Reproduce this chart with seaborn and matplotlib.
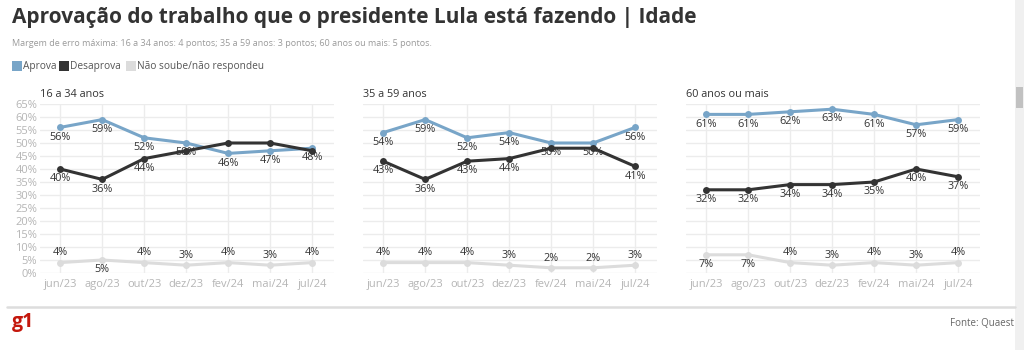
import matplotlib
matplotlib.use("Agg")
import matplotlib.pyplot as plt
import matplotlib.patches as mpatches
import numpy as np
import pandas as pd
import seaborn as sns

# ---- dados (Quaest) ----
meses = ["jun/23", "ago/23", "out/23", "dez/23", "fev/24", "mai/24", "jul/24"]
paineis = ["16 a 34 anos", "35 a 59 anos", "60 anos ou mais"]

aprova_16_34 = [56, 59, 52, 50, 46, 47, 48]
desaprova_16_34 = [40, 36, 44, 47, 50, 50, 47]
ns_16_34 = [4, 5, 4, 3, 4, 3, 4]

aprova_35_59 = [54, 59, 52, 54, 50, 50, 56]
desaprova_35_59 = [43, 36, 43, 44, 48, 48, 41]
ns_35_59 = [4, 4, 4, 3, 2, 2, 3]

aprova_60 = [61, 61, 62, 63, 61, 57, 59]
desaprova_60 = [32, 32, 34, 34, 35, 40, 37]
ns_60 = [7, 7, 4, 3, 4, 3, 4]

series = ["Não soube/não respondeu", "Aprova", "Desaprova"]
cores = {"Aprova": "#78a5c8", "Desaprova": "#333333",
         "Não soube/não respondeu": "#dcdcdc"}

dados = {
    "16 a 34 anos": (aprova_16_34, desaprova_16_34, ns_16_34),
    "35 a 59 anos": (aprova_35_59, desaprova_35_59, ns_35_59),
    "60 anos ou mais": (aprova_60, desaprova_60, ns_60),
}

rows = []
for painel, (ap, de, ns) in dados.items():
    for i, m in enumerate(meses):
        rows.append({"painel": painel, "x": i, "mes": m, "serie": "Aprova", "valor": ap[i]})
        rows.append({"painel": painel, "x": i, "mes": m, "serie": "Desaprova", "valor": de[i]})
        rows.append({"painel": painel, "x": i, "mes": m, "serie": "Não soube/não respondeu", "valor": ns[i]})
df = pd.DataFrame(rows)

sns.set_theme(style="white")
plt.rcParams["font.family"] = ["Open Sans", "DejaVu Sans"]

W, H = 1024, 350
fig = plt.figure(figsize=(W / 100, H / 100), dpi=100)
fig.patch.set_facecolor("white")


def px(x, y):
    return x / W, 1 - y / H


# titulo e subtitulo
fig.text(*px(12, 18), "Aprovação do trabalho que o presidente Lula está fazendo | Idade",
         fontsize=15, fontweight="bold", color="#333333", va="center", ha="left")
fig.text(*px(12, 43), "Margem de erro máxima: 16 a 34 anos: 4 pontos; 35 a 59 anos: 3 pontos; "
         "60 anos ou mais: 5 pontos.", fontsize=6.5, color="#9a9a9a", va="center")

# legenda
leg_x = [12, 59, 126]
for lx, s in zip(leg_x, ["Aprova", "Desaprova", "Não soube/não respondeu"]):
    x0, y0 = px(lx, 71)
    fig.patches.append(mpatches.Rectangle((x0, y0), 10 / W, 10 / H, transform=fig.transFigure,
                                          facecolor=cores[s], edgecolor="none"))
    fig.text(*px(lx + 11, 66.5), s, fontsize=7.3, color="#555555", va="center")

lefts = [40, 363, 686]
for k, (painel, left) in enumerate(zip(paineis, lefts)):
    ax = fig.add_axes([left / W, (H - 273) / H, 294 / W, 169 / H])
    sub = df[df["painel"] == painel]
    sns.lineplot(data=sub, x="x", y="valor", hue="serie", hue_order=series, palette=cores,
                 marker="o", markersize=5, markeredgewidth=0, linewidth=2.2, ax=ax,
                 legend=False, zorder=3)
    ax.set_xlim(-0.48, 6.52)
    ax.set_ylim(0, 65)
    ax.set_xticks(range(len(meses)))
    ax.set_xticklabels(meses)
    ax.set_yticks(np.arange(0, 66, 5))
    if k == 0:
        ax.set_yticklabels([f"{v}%" for v in range(0, 66, 5)])
    else:
        ax.set_yticklabels([])
    ax.tick_params(axis="both", length=0, labelsize=8, labelcolor="#b5b5b5", pad=4)
    ax.tick_params(axis="y", pad=2)
    ax.grid(True, color="#ececec", linewidth=1)
    ax.set_axisbelow(True)
    for sp in ax.spines.values():
        sp.set_visible(False)
    ax.set_xlabel("")
    ax.set_ylabel("")
    ax.set_title(painel, loc="left", fontsize=7.8, color="#333333", pad=5, x=0.0)

    ap, de, ns = dados[painel]
    for i in range(len(meses)):
        ax.annotate(f"{ap[i]}%", (i, ap[i]), xytext=(0, -7), textcoords="offset points",
                    ha="center", va="center", fontsize=7.8, color="#333333", zorder=2)
        if abs(ap[i] - de[i]) > 4:
            ax.annotate(f"{de[i]}%", (i, de[i]), xytext=(0, -7), textcoords="offset points",
                        ha="center", va="center", fontsize=7.8, color="#333333", zorder=2)
        dy = -7 if ns[i] >= 5 else 7
        ax.annotate(f"{ns[i]}%", (i, ns[i]), xytext=(0, dy), textcoords="offset points",
                    ha="center", va="center", fontsize=7.8, color="#333333", zorder=2)

# rodape
fig.add_artist(plt.Line2D([7 / W, 1015 / W], [1 - 307 / H] * 2, color="#dddddd",
                          linewidth=1.8, transform=fig.transFigure))
fig.text(*px(12, 322), "g1", fontsize=14, fontweight="bold", color="#c4170c", va="center")
fig.text(*px(1014, 324), "Fonte: Quaest", fontsize=7, color="#666666", va="center", ha="right")

# barra de rolagem
fig.patches.append(mpatches.Rectangle(px(1015, 350), 9 / W, 1, transform=fig.transFigure,
                                      facecolor="#f0f0f0", edgecolor="none"))
fig.patches.append(mpatches.Rectangle(px(1016, 108), 7 / W, 21 / H, transform=fig.transFigure,
                                      facecolor="#c1c1c1", edgecolor="none"))

fig.savefig("out.png", dpi=100)
